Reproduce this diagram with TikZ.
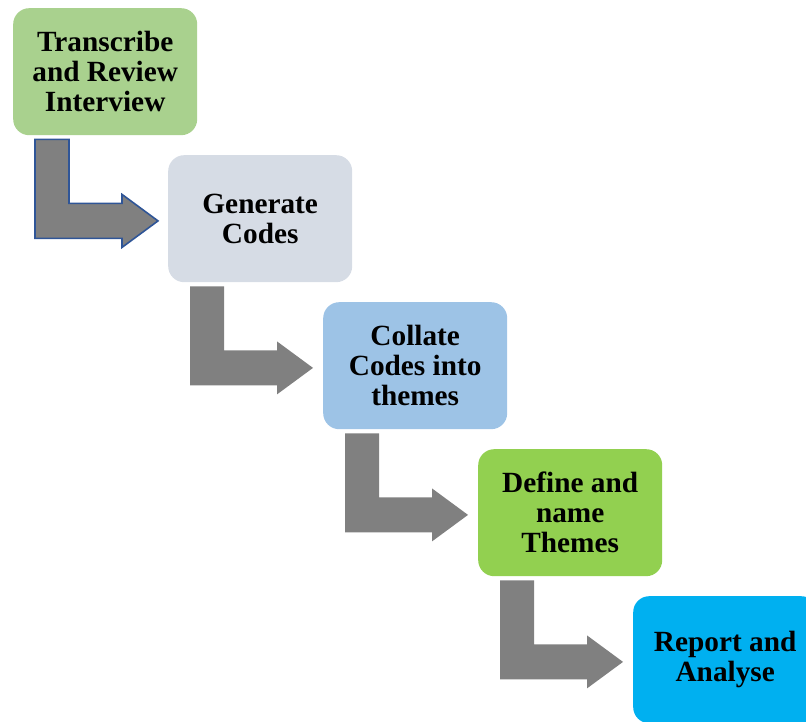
\documentclass[tikz,border=0pt]{standalone}
\usepackage{fontspec}
\setmainfont{Liberation Serif}
\usetikzlibrary{calc}
\definecolor{boxA}{HTML}{A9D18E}
\definecolor{boxB}{HTML}{D6DCE5}
\definecolor{boxC}{HTML}{9DC3E6}
\definecolor{boxD}{HTML}{92D050}
\definecolor{boxE}{HTML}{00B0F0}
\definecolor{arrowgray}{HTML}{808080}
\definecolor{arrowline}{HTML}{2F5597}
\tikzset{
  stepbox/.style={rounded corners=16pt, minimum width=184pt, minimum height=127pt,
    inner sep=0pt, align=center, anchor=north west,
    font=\fontsize{29.3pt}{30pt}\selectfont\bfseries},
  bentarrow/.style={fill=arrowgray},
}
% L-shaped block arrow hanging below a box, pointing right to the next box
\newcommand{\bentArrow}[2]{%
  \begin{scope}[shift={(#1.south west)}]
    \path[bentarrow,#2] (22,4) -- (56,4) -- (56,68) -- (109,68) -- (109,59)
      -- (145,85.5) -- (109,112) -- (109,103) -- (22,103) -- cycle;
  \end{scope}}
\begin{document}
\begin{tikzpicture}[x=1pt,y=-1pt]
  \useasboundingbox (0,0) rectangle (806,722);
  \clip (0,0) rectangle (806,722);
  \node[stepbox, fill=boxA] (b1) at (13,8)    {Transcribe\\and Review\\Interview};
  \node[stepbox, fill=boxB] (b2) at (168,155) {Generate\\Codes};
  \node[stepbox, fill=boxC] (b3) at (323,302) {Collate\\Codes into\\themes};
  \node[stepbox, fill=boxD] (b4) at (478,449) {Define and\\name\\Themes};
  \node[stepbox, fill=boxE] (b5) at (633,596) {Report and\\Analyse};
  \bentArrow{b1}{draw=arrowline, line width=1.6pt}
  \bentArrow{b2}{}
  \bentArrow{b3}{}
  \bentArrow{b4}{}
\end{tikzpicture}
\end{document}
